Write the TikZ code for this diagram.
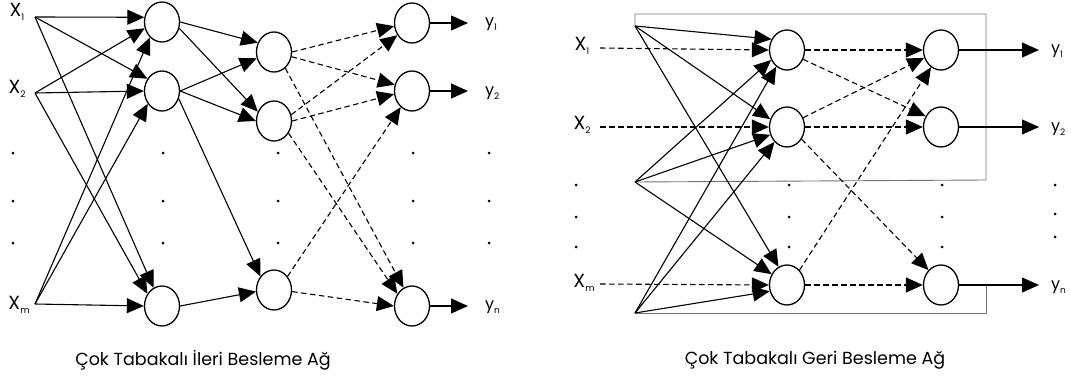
\documentclass[tikz,border=0pt]{standalone}
\usepackage{fontspec}
\setmainfont{Poppins}
\usetikzlibrary{arrows.meta,shapes.geometric}
\newcommand\lsub[2]{#1\raisebox{-.45ex}{\fontsize{9}{9}\selectfont #2}}
\begin{document}
\begin{tikzpicture}[x=1pt,y=-1pt,
  neuron/.style={ellipse,draw,line width=1.3pt,minimum width=35pt,minimum height=40pt,inner sep=0pt},
  link/.style={line width=1.1pt,-{Triangle[length=17pt,width=15pt]}},
  dlink/.style={link,dash pattern=on 5.5pt off 3.5pt},
  loopline/.style={line width=0.9pt,draw=black!55},
  xlab/.style={font=\fontsize{19}{19}\selectfont,inner sep=0pt},
  ylab/.style={font=\fontsize{16}{16}\selectfont,inner sep=0pt,anchor=west},
  captext/.style={font=\fontsize{17.5}{18}\selectfont,inner sep=0pt},
  smalldot/.style={circle,fill,inner sep=0pt,minimum size=3pt}
]
\useasboundingbox (0,0) rectangle (1071,380);

% ---------------- feed-forward network ----------------
\node[xlab] (lx1) at (17,12) {\lsub{X}{1}};
\node[xlab] (lx2) at (17,89) {\lsub{X}{2}};
\node[xlab] (lxm) at (19,305) {\lsub{X}{m}};
\coordinate (i1) at (35,17);
\coordinate (i2) at (35,93);
\coordinate (im) at (35,304);

\node[neuron] (a1) at (162,22) {};
\node[neuron] (a2) at (162,91) {};
\node[neuron] (a3) at (162,306) {};
\node[neuron] (b1) at (274,52) {};
\node[neuron] (b2) at (274,121) {};
\node[neuron] (b3) at (274,290) {};
\node[neuron] (c1) at (412,23) {};
\node[neuron] (c2) at (412,91) {};
\node[neuron] (c3) at (412,306) {};

\foreach \x in {13,163,278,413,489}
  \foreach \y in {153,201,243}
    \node[smalldot] at (\x,\y) {};

% inputs to first layer
\draw[link] (i1) -- (a1.165);
\draw[link] (i1) -- (a2.140);
\draw[link] (i1) -- (a3.115);
\draw[link] (i2) -- (a1.200);
\draw[link] (i2) -- (a2.180);
\draw[link] (i2) -- (a3.140);
\draw[link] (im) -- (a1.232);
\draw[link] (im) -- (a2.222);
\draw[link] (im) -- (a3.180);

% first layer to second layer
\draw[link] (a1.east) -- (b1.150);
\draw[link] (a1.-20) -- (b2.150);
\draw[link] (a2.east) -- (b1.200);
\draw[link] (a2.east) -- (b2.180);
\draw[link] (a2.-25) -- (b3.135);
\draw[link] (a3.east) -- (b3.185);

% second layer to output layer
\draw[dlink] (b1.east) -- (c1.190);
\draw[dlink] (b1.-15) -- (c2.160);
\draw[dlink] (b1.-55) -- (c3.115);
\draw[dlink] (b2.20) -- (c1.220);
\draw[dlink] (b2.east) -- (c2.190);
\draw[dlink] (b2.-40) -- (c3.140);
\draw[dlink] (b3.45) -- (c2.235);
\draw[dlink] (b3.-5) -- (c3.180);

% outputs
\coordinate (o1) at (468,23);
\coordinate (o2) at (468,91);
\coordinate (o3) at (468,306);
\draw[link] (c1.east) -- (o1);
\draw[link] (c2.east) -- (o2);
\draw[link] (c3.east) -- (o3);
\node[ylab] (ly1) at (485,24) {\lsub{y}{1}};
\node[ylab] (ly2) at (485,93) {\lsub{y}{2}};
\node[ylab] (lyn) at (485,307) {\lsub{y}{n}};

\node[captext] (capl) at (203,360) {Çok Tabakalı İleri Besleme Ağ};

% ---------------- feedback network ----------------
\node[xlab] (rx1) at (582,46) {\lsub{X}{1}};
\node[xlab] (rx2) at (582,125) {\lsub{X}{2}};
\node[xlab] (rxm) at (584,283) {\lsub{X}{m}};
\coordinate (j1) at (600,48);
\coordinate (j2) at (600,127);
\coordinate (jm) at (600,284);

\node[neuron] (r1) at (787,50) {};
\node[neuron] (r2) at (787,127) {};
\node[neuron] (r3) at (787,285) {};
\node[neuron] (s1) at (941,50) {};
\node[neuron] (s2) at (941,127) {};
\node[neuron] (s3) at (941,285) {};

\foreach \x in {576,789,942}
  \foreach \y in {185,217,247}
    \node[smalldot] at (\x,\y) {};
\foreach \y in {185,214,237}
  \node[smalldot] at (1055,\y) {};

% feedback loops
\coordinate (ft) at (635,26);
\coordinate (fm) at (635,182);
\coordinate (fb) at (635,313);
\coordinate (k3) at (986,285);
\draw[loopline] (ft) -- (635,14) -- (986,14) -- (986,180) -- (fm);
\draw[loopline] (k3) -- (986,313) -- (fb);

% inputs to first layer
\draw[dlink] (j1) -- (r1.180);
\draw[dlink] (j2) -- (r2.180);
\draw[dlink] (jm) -- (r3.180);

% fed-back signals to first layer
\draw[link] (ft) -- (r1.145);
\draw[link] (ft) -- (r2.155);
\draw[link] (ft) -- (r3.115);
\draw[link] (fm) -- (r1.212);
\draw[link] (fm) -- (r2.205);
\draw[link] (fm) -- (r3.145);
\draw[link] (fb) -- (r1.237);
\draw[link] (fb) -- (r2.230);
\draw[link] (fb) -- (r3.200);

% first layer to output layer
\draw[dlink] (r1.east) -- (s1.180);
\draw[dlink] (r1.-30) -- (s2.145);
\draw[dlink] (r2.30) -- (s1.205);
\draw[dlink] (r2.east) -- (s2.180);
\draw[dlink] (r2.-40) -- (s3.130);
\draw[dlink] (r3.50) -- (s1.240);
\draw[dlink] (r3.east) -- (s3.180);

% outputs
\coordinate (p1) at (1039,50);
\coordinate (p2) at (1039,127);
\coordinate (p3) at (1039,285);
\draw[link] (s1.east) -- (p1);
\draw[link] (s2.east) -- (p2);
\draw[link] (s3.east) -- (p3);
\node[ylab] (ry1) at (1051,51) {\lsub{y}{1}};
\node[ylab] (ry2) at (1051,129) {\lsub{y}{2}};
\node[ylab] (ryn) at (1051,287) {\lsub{y}{n}};

\node[captext] (capr) at (815,360) {Çok Tabakalı Geri Besleme Ağ};
\end{tikzpicture}
\end{document}
